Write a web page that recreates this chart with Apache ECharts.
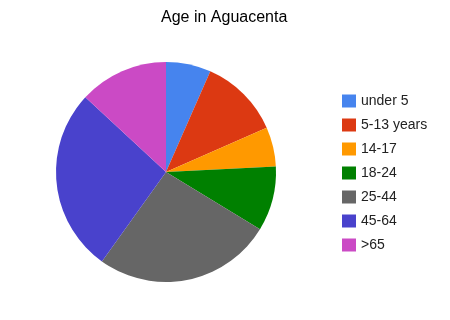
<!DOCTYPE html>
<html>
<head>
<meta charset="utf-8">
<script src="https://cdn.jsdelivr.net/npm/echarts@6/dist/echarts.min.js"></script>
<style>html,body{margin:0;padding:0;background:#fff}#c{width:450px;height:320px}</style>
</head>
<body>
<div id="c"></div>
<script>
var titleText = "Age in Aguacenta";
var categories = ["under 5", "5-13 years", "14-17", "18-24", "25-44", "45-64", ">65"];
var values = [6.6, 11.8, 5.8, 9.5, 26.2, 27.0, 13.1];
var colors = ["#4684ee", "#dc3912", "#ff9900", "#008000", "#666666", "#4942cc", "#cb4ac5"];

var chart = echarts.init(document.getElementById('c'), null, {renderer: 'canvas'});
chart.setOption({
  animation: false,
  color: colors,
  title: {
    text: titleText,
    left: 161, top: 10, padding: 0,
    textStyle: {fontFamily: 'Liberation Sans, Arial', fontSize: 16, fontWeight: 'normal', color: '#000'}
  },
  legend: {
    orient: 'vertical',
    left: 342, top: 94, padding: 0,
    itemWidth: 14, itemHeight: 13, itemGap: 10,
    icon: 'rect',
    textStyle: {fontFamily: 'Liberation Sans, Arial', fontSize: 14, color: '#222'},
    data: categories
  },
  series: [{
    type: 'pie',
    center: [166, 172],
    radius: 110,
    startAngle: 90,
    clockwise: true,
    label: {show: false},
    labelLine: {show: false},
    itemStyle: {borderWidth: 0},
    emphasis: {disabled: true},
    data: categories.map(function (c, i) { return {name: c, value: values[i]}; })
  }]
});
</script>
</body>
</html>
